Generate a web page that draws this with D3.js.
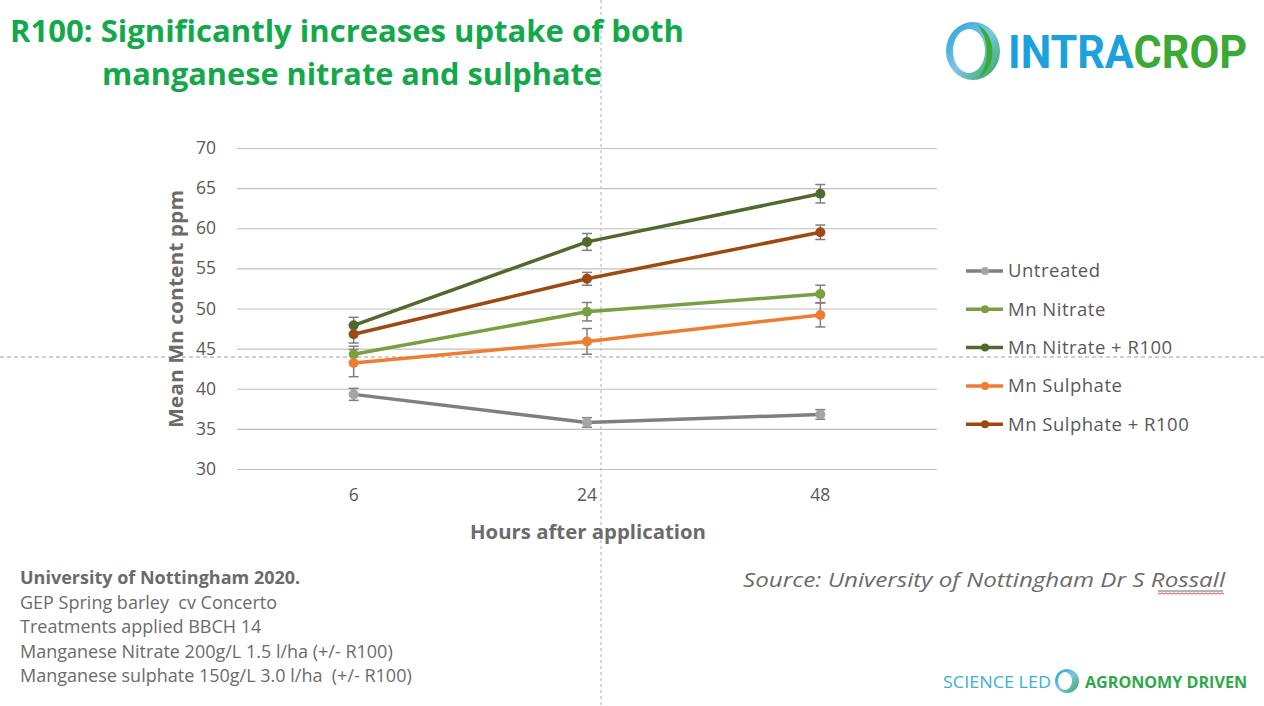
<!DOCTYPE html>
<html>
<head>
<meta charset="utf-8">
<script src="https://cdn.jsdelivr.net/npm/d3@7"></script>
<style>
  html, body { margin: 0; padding: 0; background: #fff; }
  svg { display: block; }
  text.note { white-space: pre; }
</style>
</head>
<body>
<svg id="chart" width="1264" height="706"></svg>
<script>
// chart data
var categories = ["6", "24", "48"];
var seriesNames = ["Untreated", "Mn Nitrate", "Mn Nitrate + R100", "Mn Sulphate", "Mn Sulphate + R100"];
var untreated = [39.3, 35.8, 36.8];
var mnNitrate = [44.3, 49.6, 51.8];
var mnNitrateR100 = [47.9, 58.3, 64.3];
var mnSulphate = [43.2, 45.9, 49.2];
var mnSulphateR100 = [46.8, 53.7, 59.5];
var errUntreated = [0.75, 0.6, 0.6];
var errMnNitrate = [1.0, 1.15, 1.1];
var errMnNitrateR100 = [1.0, 1.05, 1.15];
var errMnSulphate = [1.7, 1.6, 1.5];
var errMnSulphateR100 = [1.1, 0.8, 0.9];
var yTicks = [30, 35, 40, 45, 50, 55, 60, 65, 70];
var footerLines = [
  "GEP Spring barley  cv Concerto",
  "Treatments applied BBCH 14",
  "Manganese Nitrate 200g/L 1.5 l/ha (+/- R100)",
  "Manganese sulphate 150g/L 3.0 l/ha  (+/- R100)"
];

var lineColors = ["#7f7f7f", "#78a040", "#4f6a2c", "#ed7d31", "#9c4a12"];
var markColors = ["#a5a5a5", "#78a040", "#4f6a2c", "#ed7d31", "#9c4a12"];
var values = [untreated, mnNitrate, mnNitrateR100, mnSulphate, mnSulphateR100];
var errors = [errUntreated, errMnNitrate, errMnNitrateR100, errMnSulphate, errMnSulphateR100];

var data = seriesNames.map(function (name, i) {
  return {
    name: name,
    line: lineColors[i],
    mark: markColors[i],
    points: categories.map(function (c, j) { return { cat: c, value: values[i][j], err: errors[i][j] }; })
  };
});

var svg = d3.select("#chart");
var textGray = "#595959";
var uiFont = "'Open Sans', 'Noto Sans', sans-serif";

var margin = { top: 148, left: 237, right: 327, bottom: 237 };
var width = 1264, height = 706;

var x = d3.scaleBand()
  .domain(categories)
  .range([margin.left, width - margin.right]);
var y = d3.scaleLinear()
  .domain([30, 70])
  .range([height - margin.bottom, margin.top]);

// slide guides (dotted)
svg.append("line")
  .attr("x1", 601).attr("x2", 601).attr("y1", 0).attr("y2", height)
  .attr("stroke", "#b0b0b0").attr("stroke-width", 1).attr("stroke-dasharray", "3,3");
svg.append("line")
  .attr("x1", 0).attr("x2", width).attr("y1", 357).attr("y2", 357)
  .attr("stroke", "#a0a0a0").attr("stroke-width", 1).attr("stroke-dasharray", "4,3");

// title
var title = svg.append("g")
  .attr("fill", "#13a84a")
  .style("font", "bold 31px 'Open Sans', sans-serif");
title.append("text").attr("x", 10).attr("y", 42)
  .attr("textLength", 674).attr("lengthAdjust", "spacingAndGlyphs")
  .text("R100: Significantly increases uptake of both");
title.append("text").attr("x", 102).attr("y", 85)
  .attr("textLength", 500).attr("lengthAdjust", "spacingAndGlyphs")
  .text("manganese nitrate and sulphate");

// gridlines + y axis
var yAxis = function (g) { return g
  .attr("transform", "translate(" + margin.left + ",0)")
  .call(d3.axisLeft(y).tickValues(yTicks).tickSize(-(width - margin.left - margin.right)).tickPadding(21))
  .call(function (g) { g.select(".domain").remove(); })
  .call(function (g) { g.selectAll(".tick line").attr("stroke", "#c0c0c0").attr("stroke-width", 1.2); })
  .selectAll("text").attr("fill", textGray).style("font", "17.5px " + uiFont); };
svg.append("g").call(yAxis);

var xAxis = function (g) { return g
  .attr("transform", "translate(0," + (height - margin.bottom) + ")")
  .call(d3.axisBottom(x).tickSize(0).tickPadding(20))
  .call(function (g) { g.select(".domain").remove(); })
  .selectAll("text").attr("fill", textGray).style("font", "17.5px " + uiFont); };
svg.append("g").call(xAxis);

// axis titles
svg.append("text")
  .attr("transform", "translate(183,309) rotate(-90)")
  .attr("text-anchor", "middle")
  .attr("fill", "#6b6b6b")
  .style("font", "bold 20px " + uiFont)
  .attr("textLength", 238).attr("lengthAdjust", "spacingAndGlyphs")
  .text("Mean Mn content ppm");
svg.append("text")
  .attr("x", 588).attr("y", 539)
  .attr("text-anchor", "middle")
  .attr("fill", "#6b6b6b")
  .style("font", "bold 20px " + uiFont)
  .attr("textLength", 236).attr("lengthAdjust", "spacingAndGlyphs")
  .text("Hours after application");

var cx = function (d) { return x(d.cat) + x.bandwidth() / 2; };
var line = d3.line().x(cx).y(function (d) { return y(d.value); });

// error bars
var eb = svg.append("g").attr("stroke", "#7f7f7f").attr("stroke-width", 1.5);
data.forEach(function (s) {
  s.points.forEach(function (p) {
    var px = cx(p), y0 = y(p.value - p.err), y1 = y(p.value + p.err);
    eb.append("line").attr("x1", px).attr("x2", px).attr("y1", y0).attr("y2", y1);
    eb.append("line").attr("x1", px - 5).attr("x2", px + 5).attr("y1", y0).attr("y2", y0);
    eb.append("line").attr("x1", px - 5).attr("x2", px + 5).attr("y1", y1).attr("y2", y1);
  });
});

// lines and markers
var series = svg.append("g").selectAll("g")
  .data(data)
  .join("g");
series.append("path")
  .attr("fill", "none")
  .attr("stroke", function (d) { return d.line; })
  .attr("stroke-width", 3.5)
  .attr("stroke-linejoin", "round")
  .attr("d", function (d) { return line(d.points); });
series.selectAll("circle")
  .data(function (d) { return d.points.map(function (p) { return { cat: p.cat, value: p.value, color: d.mark }; }); })
  .join("circle")
  .attr("cx", cx)
  .attr("cy", function (d) { return y(d.value); })
  .attr("r", 5)
  .attr("fill", function (d) { return d.color; });

// legend
var legend = svg.append("g").selectAll("g")
  .data(data)
  .join("g")
  .attr("transform", function (d, i) { return "translate(966," + (271 + i * 38.3) + ")"; });
legend.append("line")
  .attr("x1", 0).attr("x2", 37).attr("y1", 0).attr("y2", 0)
  .attr("stroke", function (d) { return d.line; }).attr("stroke-width", 3.5);
legend.append("circle")
  .attr("cx", 19).attr("cy", 0).attr("r", 4)
  .attr("fill", function (d) { return d.mark; });
legend.append("text")
  .attr("x", 42).attr("y", 0).attr("dy", "0.35em")
  .attr("fill", textGray)
  .style("font", "18.5px " + uiFont)
  .style("letter-spacing", "0.5px")
  .text(function (d) { return d.name; });

// footer notes
var foot = svg.append("g").attr("fill", "#6b6b6b")
  .style("font", "18px " + uiFont);
foot.append("text").attr("x", 20).attr("y", 584)
  .style("font-weight", "bold")
  .text("University of Nottingham 2020.");
foot.selectAll("text.note")
  .data(footerLines)
  .join("text")
  .attr("class", "note")
  .attr("xml:space", "preserve")
  .attr("x", 20)
  .attr("y", function (d, i) { return 609 + i * 24.3; })
  .text(function (d) { return d; });

// source
svg.append("text")
  .attr("x", 743).attr("y", 587)
  .attr("fill", "#6b6b6b")
  .style("font", "italic 20px " + uiFont)
  .attr("textLength", 482).attr("lengthAdjust", "spacingAndGlyphs")
  .text("Source: University of Nottingham Dr S Rossall");
svg.append("line")
  .attr("x1", 1158).attr("x2", 1223).attr("y1", 591).attr("y2", 591)
  .attr("stroke", "#6b6b6b").attr("stroke-width", 1);
var wavy = d3.range(1158, 1226, 2).map(function (xx, i) { return [xx, 593 + (i % 2 ? 1.2 : -0.2)]; });
svg.append("path")
  .attr("d", d3.line()(wavy))
  .attr("fill", "none").attr("stroke", "#e03030").attr("stroke-width", 0.9);

// INTRACROP logo
var defs = svg.append("defs");
var grad = defs.append("linearGradient").attr("id", "ring").attr("x1", "0").attr("x2", "1").attr("y1", "0").attr("y2", "1");
grad.append("stop").attr("offset", "0").attr("stop-color", "#1fa0d8");
grad.append("stop").attr("offset", "0.5").attr("stop-color", "#7cc6e6");
grad.append("stop").attr("offset", "1").attr("stop-color", "#2fa84a");
var logo = svg.append("g");
logo.append("ellipse").attr("cx", 973).attr("cy", 51).attr("rx", 27).attr("ry", 29).attr("fill", "url(#ring)");
logo.append("ellipse").attr("cx", 969).attr("cy", 51).attr("rx", 16).attr("ry", 22).attr("fill", "#fff");
logo.append("path")
  .attr("d", "M977,25 C996,32 999,68 978,78 C990,66 990,38 977,25 Z")
  .attr("fill", "#3aaa35");
var logoText = logo.append("text")
  .attr("x", 1008).attr("y", 68)
  .style("font", "bold 47px 'Roboto', 'Open Sans', sans-serif")
  .attr("textLength", 239).attr("lengthAdjust", "spacingAndGlyphs");
logoText.append("tspan").attr("fill", "#1da1dc").text("INTRA");
logoText.append("tspan").attr("fill", "#3aaa35").text("CROP");

// bottom strapline
var strap = svg.append("g");
strap.append("text")
  .attr("x", 943).attr("y", 688)
  .attr("fill", "#3bb0d4")
  .style("font", "16px 'Open Sans', sans-serif")
  .attr("textLength", 108).attr("lengthAdjust", "spacingAndGlyphs")
  .text("SCIENCE LED");
strap.append("ellipse").attr("cx", 1067).attr("cy", 681).attr("rx", 12).attr("ry", 12).attr("fill", "url(#ring)");
strap.append("ellipse").attr("cx", 1065).attr("cy", 681).attr("rx", 7).attr("ry", 9).attr("fill", "#fff");
strap.append("text")
  .attr("x", 1085).attr("y", 688)
  .attr("fill", "#2fa84a")
  .style("font", "bold 16px 'Open Sans', sans-serif")
  .attr("textLength", 162).attr("lengthAdjust", "spacingAndGlyphs")
  .text("AGRONOMY DRIVEN");
</script>
</body>
</html>
